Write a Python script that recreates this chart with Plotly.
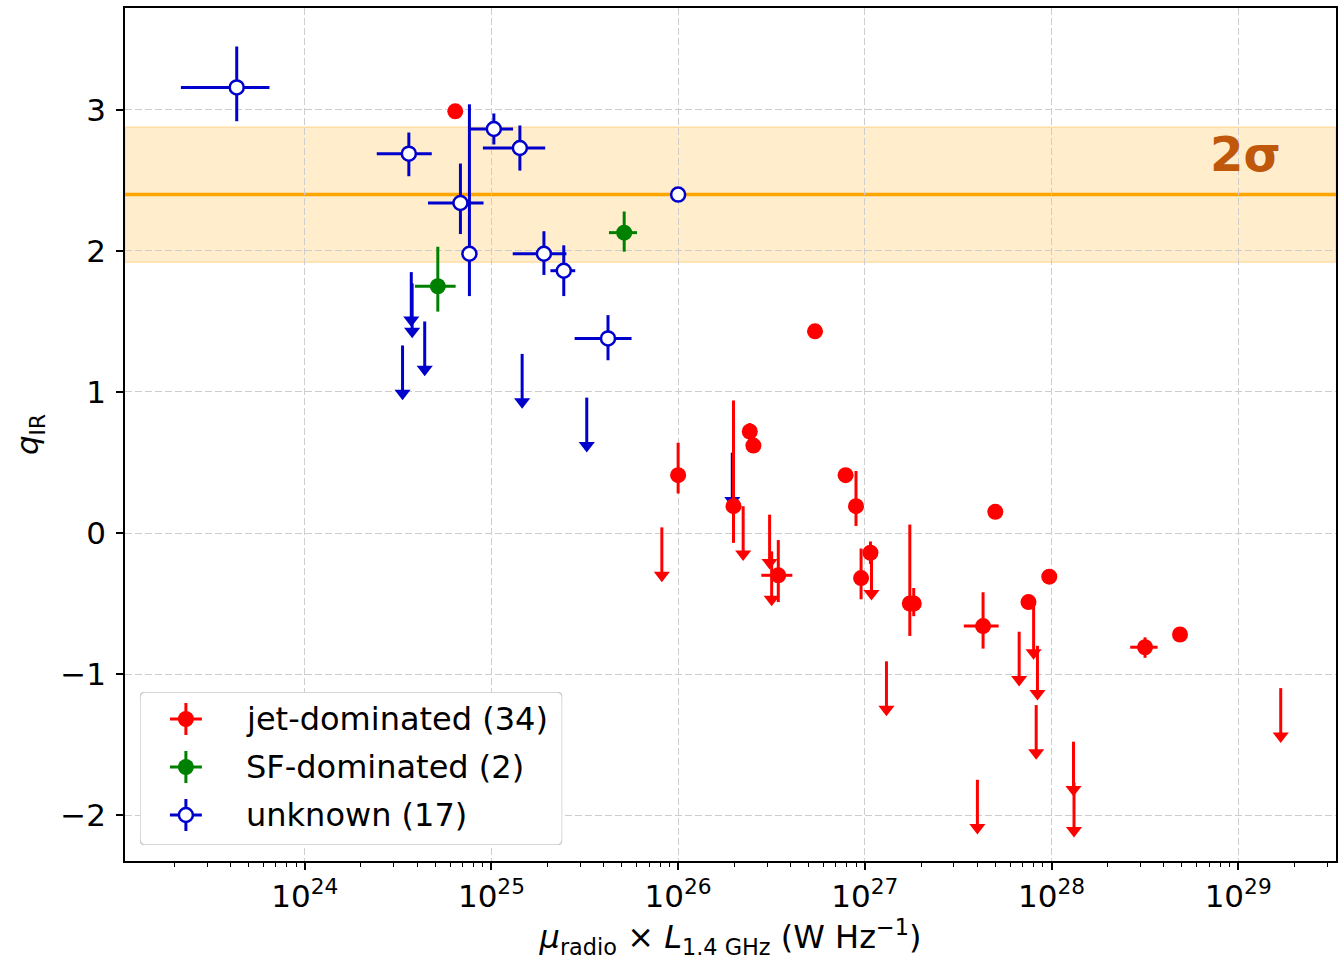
import numpy as np
import plotly.graph_objects as go

# ---------------- data ----------------
# unknown: detections
unk_L = [4.32e23, 3.61e24, 1.03e25, 1.42e25, 6.82e24, 7.62e24, 1.91e25, 2.44e25, 4.21e25, 1.00e26]
unk_Lerr = [2.15e23, 1.18e24, 2.75e24, 5.2e24, 2.25e24, 0.0, 6.1e24, 3.7e24, 1.42e25, 0.0]
unk_q = [3.16, 2.69, 2.865, 2.73, 2.34, 1.98, 1.98, 1.86, 1.38, 2.40]
unk_q_up = [0.29, 0.15, 0.11, 0.16, 0.28, 1.06, 0.16, 0.18, 0.165, 0.0]
unk_q_lo = [0.24, 0.16, 0.11, 0.16, 0.22, 0.30, 0.15, 0.18, 0.155, 0.0]
# unknown: upper limits
unk_ul_L = [3.72e24, 3.76e24, 4.39e24, 3.34e24, 1.46e25, 3.24e25, 1.95e26]
unk_ul_q = [1.85, 1.77, 1.50, 1.33, 1.27, 0.96, 0.57]

# SF-dominated
sf_L = [5.16e24, 5.14e25]
sf_Lerr = [1.27e24, 8.8e24]
sf_q = [1.75, 2.13]
sf_q_up = [0.28, 0.15]
sf_q_lo = [0.18, 0.135]

# jet-dominated: detections
jet_L = [6.40e24, 5.41e26, 1.00e26, 2.42e26, 2.53e26, 1.98e26, 3.44e26, 7.89e26, 8.97e26,
         1.072e27, 9.55e26, 1.742e27, 1.828e27, 5.00e27, 4.30e27, 7.53e27, 9.73e27, 3.17e28, 4.88e28]
jet_Lerr = [0, 0, 0, 0, 0, 0, 6.5e25, 0, 0,
            0, 0, 0, 0, 0, 9.1e26, 0, 0, 5.3e27, 0]
jet_q = [2.99, 1.43, 0.41, 0.72, 0.62, 0.19, -0.30, 0.41, 0.19,
         -0.14, -0.32, -0.50, -0.50, 0.15, -0.66, -0.49, -0.31, -0.81, -0.72]
jet_q_up = [0, 0, 0.23, 0.06, 0, 0.75, 0.25, 0, 0.25,
            0.08, 0.21, 0.56, 0.11, 0, 0.24, 0, 0, 0.07, 0]
jet_q_lo = [0, 0, 0.13, 0.06, 0, 0.26, 0.19, 0, 0.14,
            0.08, 0.15, 0.23, 0.09, 0, 0.16, 0, 0, 0.075, 0]
# jet-dominated: upper limits
jet_ul_L = [8.18e25, 2.23e26, 3.09e26, 3.17e26, 1.086e27, 1.306e27, 4.01e27, 6.71e27,
            8.02e27, 8.41e27, 8.28e27, 1.312e28, 1.32e28, 1.69e29]
jet_ul_q = [0.04, 0.19, 0.13, -0.13, -0.09, -0.91, -1.75, -0.70,
            -0.51, -0.80, -1.22, -1.48, -1.77, -1.10]

# reference relation
q_mean = 2.40
q_sigma = 0.24

legend_labels = ["jet-dominated (34)", "SF-dominated (2)", "unknown (17)"]
x_tick_exps = [24, 25, 26, 27, 28, 29]
y_tick_vals = [-2, -1, 0, 1, 2, 3]

# ---------------- style ----------------
RED = "#ff0000"
GREEN = "#008000"
BLUE = "#0000cd"
W, H = 1339, 961
ML, MR, MT, MB = 125, 1, 8, 100
XR = [23.037, 29.524]
YR = [-2.326, 3.723]
UL_LEN = 0.3
plot_w = W - ML - MR
plot_h = H - MT - MB
px_per_q = plot_h / (YR[1] - YR[0])
TRI = 14
tri_off = (TRI / 4 + 2) / px_per_q
FONT = "DejaVu Sans"
GRID = dict(showgrid=True, gridcolor="#cdcdcd", gridwidth=1.4, griddash="7px,3px")

fig = go.Figure()


def add_limits(L, q, color):
    xs, ys = [], []
    for a, b in zip(L, q):
        xs += [a, a, None]
        ys += [b, b - UL_LEN - tri_off, None]
    fig.add_trace(go.Scatter(x=xs, y=ys, mode="lines", line=dict(color=color, width=3),
                             showlegend=False, hoverinfo="skip"))
    fig.add_trace(go.Scatter(x=L, y=[b - UL_LEN - tri_off for b in q], mode="markers",
                             marker=dict(symbol="triangle-down", size=TRI, color=color,
                                         line=dict(width=0)),
                             showlegend=False, hoverinfo="skip"))


def add_points(L, Lerr, q, qup, qlo, color, open_marker):
    marker = dict(size=14, color="white", line=dict(color=color, width=2.5)) if open_marker \
        else dict(size=16, color=color, line=dict(width=0))
    fig.add_trace(go.Scatter(
        x=L, y=q, mode="markers", marker=marker,
        error_x=dict(type="data", array=Lerr, symmetric=True, color=color, thickness=3, width=0),
        error_y=dict(type="data", array=qup, arrayminus=qlo, symmetric=False, color=color,
                     thickness=3, width=0),
        showlegend=False))


add_limits(unk_ul_L, unk_ul_q, BLUE)
add_points(unk_L, unk_Lerr, unk_q, unk_q_up, unk_q_lo, BLUE, True)
add_points(sf_L, sf_Lerr, sf_q, sf_q_up, sf_q_lo, GREEN, False)
add_limits(jet_ul_L, jet_ul_q, RED)
add_points(jet_L, jet_Lerr, jet_q, jet_q_up, jet_q_lo, RED, False)

# band + line
fig.add_shape(type="rect", xref="paper", yref="y", x0=0, x1=1,
              y0=q_mean - 2 * q_sigma, y1=q_mean + 2 * q_sigma,
              fillcolor="rgba(255,165,0,0.2)", line=dict(color="rgba(255,165,0,0.25)", width=1.5),
              layer="between")
fig.add_shape(type="line", xref="paper", yref="y", x0=0, x1=1, y0=q_mean, y1=q_mean,
              line=dict(color="#ffa500", width=3.5), layer="between")

fig.add_annotation(text="<b>2σ</b>", xref="paper", yref="paper",
                   x=(1247 - ML) / plot_w, y=(H - MB - 154) / plot_h,
                   xanchor="center", yanchor="middle", showarrow=False,
                   font=dict(family=FONT, size=48, color="#c0580c"))

# ---------------- custom legend (inset axes) ----------------
# legend box in px: x 140-563, y 692-845
leg_x0, leg_x1 = (140 - ML) / plot_w, (563 - ML) / plot_w
leg_y0, leg_y1 = (H - MB - 845) / plot_h, (H - MB - 692) / plot_h
leg_wpx, leg_hpx = 423, 153
sym_x = 46 / leg_wpx
txt_x = 104 / leg_wpx
rows = [(845 - 719) / leg_hpx, (845 - 767) / leg_hpx, (845 - 815) / leg_hpx]
ex, ey = 16 / leg_wpx, 16 / leg_hpx
rx, ry = 6 / leg_wpx, 6 / leg_hpx
path = (f"M{rx},0 L{1-rx},0 Q1,0 1,{ry} L1,{1-ry} Q1,1 {1-rx},1 L{rx},1 "
        f"Q0,1 0,{1-ry} L0,{ry} Q0,0 {rx},0 Z")
fig.add_shape(type="path", path=path, xref="x2", yref="y2",
              fillcolor="rgba(255,255,255,0.8)", line=dict(color="#cccccc", width=1.5),
              layer="between")
leg_styles = [(RED, False), (GREEN, False), (BLUE, True)]
for (color, op), ry_, lab in zip(leg_styles, rows, legend_labels):
    marker = dict(size=14, color="white", line=dict(color=color, width=2.5)) if op \
        else dict(size=16, color=color, line=dict(width=0))
    fig.add_trace(go.Scatter(x=[sym_x], y=[ry_], xaxis="x2", yaxis="y2", mode="markers",
                             marker=marker,
                             error_x=dict(type="data", array=[ex], color=color, thickness=3, width=0),
                             error_y=dict(type="data", array=[ey], color=color, thickness=3, width=0),
                             showlegend=False, hoverinfo="skip"))
    fig.add_annotation(text=lab, xref="x2", yref="y2", x=txt_x, y=ry_, xanchor="left",
                       yanchor="middle", showarrow=False,
                       font=dict(family=FONT, size=32, color="black"))

minor_vals = [k * 10.0 ** n for n in range(23, 30) for k in range(2, 10)]

fig.update_layout(
    width=W, height=H,
    margin=dict(l=ML, r=MR, t=MT, b=MB),
    paper_bgcolor="white", plot_bgcolor="white",
    font=dict(family=FONT, color="black"),
    showlegend=False,
    xaxis=dict(
        type="log", range=XR, domain=[0, 1], anchor="y",
        tickmode="array", tickvals=[10.0 ** e for e in x_tick_exps],
        ticktext=[f"10<sup>{e}</sup>" for e in x_tick_exps],
        ticks="outside", ticklen=7, tickwidth=1.5, tickcolor="black",
        minor=dict(tickmode="array", tickvals=minor_vals, ticks="outside", ticklen=4,
                   tickwidth=1, tickcolor="black", showgrid=False),
        **GRID,
        showline=True, linecolor="black", linewidth=1.5, mirror=True, zeroline=False,
        tickfont=dict(size=31, color="black"),
        title=dict(text="<i>μ</i><sub>radio</sub> × <i>L</i><sub>1.4 GHz</sub> (W Hz<sup>−1</sup>)",
                   font=dict(size=32, color="black"), standoff=13),
    ),
    yaxis=dict(
        range=YR, domain=[0, 1], anchor="x",
        tickmode="array", tickvals=y_tick_vals,
        ticktext=[str(v).replace("-", "−") for v in y_tick_vals],
        ticks="outside", ticklen=7, tickwidth=1.5, tickcolor="black",
        ticklabelstandoff=4,
        **GRID,
        showline=True, linecolor="black", linewidth=1.5, mirror=True, zeroline=False,
        tickfont=dict(size=31, color="black"),
        title=dict(text="<i>q</i><sub>IR</sub>", font=dict(size=31, color="black"), standoff=12),
    ),
    xaxis2=dict(domain=[leg_x0, leg_x1], range=[0, 1], anchor="y2", visible=False,
                fixedrange=True),
    yaxis2=dict(domain=[leg_y0, leg_y1], range=[0, 1], anchor="x2", visible=False,
                fixedrange=True),
)

fig.write_html("out.html", config={"displayModeBar": False},
               post_script="document.body.style.margin='0px';")
